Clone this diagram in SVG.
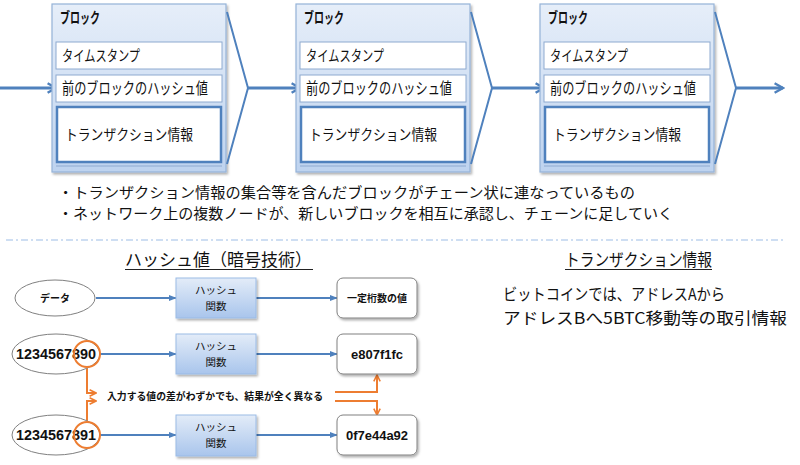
<svg xmlns="http://www.w3.org/2000/svg" width="800" height="465" viewBox="0 0 800 465">
<defs>
<linearGradient id="blk" x1="0" y1="0" x2="0" y2="1">
<stop offset="0" stop-color="#e6eef9"/>
<stop offset="1" stop-color="#bed3ef"/>
</linearGradient>
<linearGradient id="hf" x1="0" y1="0" x2="0" y2="1">
<stop offset="0" stop-color="#e3ecf8"/>
<stop offset="1" stop-color="#a9c5ec"/>
</linearGradient>
<filter id="sh" x="-10%" y="-10%" width="130%" height="130%">
<feDropShadow dx="1.5" dy="2" stdDeviation="1.2" flood-color="#000" flood-opacity="0.3"/>
</filter>
<marker id="open" viewBox="0 0 10 10" refX="8" refY="5" markerWidth="4" markerHeight="4" orient="auto" markerUnits="strokeWidth">
<path d="M1,1 L8,5 L1,9" fill="none" stroke="#4f81bd" stroke-width="2"/>
</marker>
<marker id="tri" viewBox="0 0 10 10" refX="9" refY="5" markerWidth="4" markerHeight="4" orient="auto" markerUnits="strokeWidth">
<path d="M0,1 L10,5 L0,9 Z" fill="#4f81bd"/>
</marker>
<marker id="otri" viewBox="0 0 10 10" refX="9" refY="5" markerWidth="4" markerHeight="4" orient="auto" markerUnits="strokeWidth">
<path d="M1,1 L9,5 L1,9" fill="none" stroke="#ed7d31" stroke-width="2"/>
</marker>
<style>
.jp{font-family:"Noto Sans CJK JP","Noto Sans",sans-serif;fill:#111}
.outer{fill:url(#blk);stroke:#95b3d7;stroke-width:1.2}
.inner{fill:#fff;stroke:#8eaad0;stroke-width:1}
.tx{fill:#fff;stroke:#4f81bd;stroke-width:2.5}
.chev{fill:none;stroke:#4f81bd;stroke-width:2}
.big{fill:none;stroke:#4f81bd;stroke-width:3;marker-end:url(#open)}
.ln{fill:none;stroke:#4f81bd;stroke-width:2;marker-end:url(#tri)}
.ell{fill:#fff;stroke:#808080;stroke-width:1}
.hbox{fill:url(#hf);stroke:#9bbbe6;stroke-width:1}
.obox{fill:#fff;stroke:#808080;stroke-width:1}
.or{fill:none;stroke:#ed7d31;stroke-width:2}
.num{font-family:"Liberation Sans",Arial,sans-serif;font-weight:bold;fill:#111}
</style>
</defs>

<g id="connectors">
<line class="big" x1="0" y1="88" x2="56" y2="88"/>
<line class="big" x1="248" y1="88" x2="300" y2="88"/>
<line class="big" x1="492" y1="88" x2="544" y2="88"/>
<line class="big" x1="736" y1="88" x2="783" y2="88"/>
<line class="ln" x1="96" y1="298" x2="176" y2="298"/>
<line class="ln" x1="256" y1="298" x2="337" y2="298"/>
<line class="ln" x1="100" y1="354" x2="176" y2="354"/>
<line class="ln" x1="256" y1="354" x2="337" y2="354"/>
<line class="ln" x1="100" y1="435" x2="176" y2="435"/>
<line class="ln" x1="256" y1="435" x2="337" y2="435"/>
<path class="or" d="M87,367 V393 H96" marker-end="url(#otri)"/>
<path class="or" d="M87,421 V401 H96" marker-end="url(#otri)"/>
<path class="or" d="M335,392 H377 V375" marker-end="url(#otri)"/>
<path class="or" d="M335,401 H377 V415" marker-end="url(#otri)"/>
</g>

<g id="block1">
<rect class="outer" x="52" y="4" width="174" height="168" filter="url(#sh)"/>
<text class="jp" x="60" y="23" font-size="15" font-weight="bold" textLength="40" lengthAdjust="spacingAndGlyphs">ブロック</text>
<rect class="inner" x="56" y="42" width="166" height="27"/>
<text class="jp" x="62" y="61" font-size="15" textLength="78" lengthAdjust="spacingAndGlyphs">タイムスタンプ</text>
<rect class="inner" x="56" y="75" width="166" height="27"/>
<text class="jp" x="62" y="94" font-size="16" textLength="146" lengthAdjust="spacingAndGlyphs">前のブロックのハッシュ値</text>
<rect class="tx" x="57" y="107" width="164" height="55"/>
<line x1="56" y1="166" x2="222" y2="166" stroke="#8eaad0" stroke-width="1"/>
<text class="jp" x="65" y="140" font-size="15" textLength="128" lengthAdjust="spacingAndGlyphs">トランザクション情報</text>
<polyline class="chev" points="227,12 248,88 227,164"/>
</g>

<g id="block2">
<rect class="outer" x="296" y="4" width="174" height="168" filter="url(#sh)"/>
<text class="jp" x="304" y="23" font-size="15" font-weight="bold" textLength="40" lengthAdjust="spacingAndGlyphs">ブロック</text>
<rect class="inner" x="300" y="42" width="166" height="27"/>
<text class="jp" x="306" y="61" font-size="15" textLength="78" lengthAdjust="spacingAndGlyphs">タイムスタンプ</text>
<rect class="inner" x="300" y="75" width="166" height="27"/>
<text class="jp" x="306" y="94" font-size="16" textLength="146" lengthAdjust="spacingAndGlyphs">前のブロックのハッシュ値</text>
<rect class="tx" x="301" y="107" width="164" height="55"/>
<line x1="300" y1="166" x2="466" y2="166" stroke="#8eaad0" stroke-width="1"/>
<text class="jp" x="309" y="140" font-size="15" textLength="128" lengthAdjust="spacingAndGlyphs">トランザクション情報</text>
<polyline class="chev" points="471,12 492,88 471,164"/>
</g>

<g id="block3">
<rect class="outer" x="540" y="4" width="174" height="168" filter="url(#sh)"/>
<text class="jp" x="548" y="23" font-size="15" font-weight="bold" textLength="40" lengthAdjust="spacingAndGlyphs">ブロック</text>
<rect class="inner" x="544" y="42" width="166" height="27"/>
<text class="jp" x="550" y="61" font-size="15" textLength="78" lengthAdjust="spacingAndGlyphs">タイムスタンプ</text>
<rect class="inner" x="544" y="75" width="166" height="27"/>
<text class="jp" x="550" y="94" font-size="16" textLength="146" lengthAdjust="spacingAndGlyphs">前のブロックのハッシュ値</text>
<rect class="tx" x="545" y="107" width="164" height="55"/>
<line x1="544" y1="166" x2="710" y2="166" stroke="#8eaad0" stroke-width="1"/>
<text class="jp" x="553" y="140" font-size="15" textLength="128" lengthAdjust="spacingAndGlyphs">トランザクション情報</text>
<polyline class="chev" points="715,12 736,88 715,164"/>
</g>

<g id="bullets">
<text class="jp" x="58" y="198" font-size="14.5" textLength="577" lengthAdjust="spacingAndGlyphs">・トランザクション情報の集合等を含んだブロックがチェーン状に連なっているもの</text>
<text class="jp" x="58" y="219" font-size="14.5" textLength="615" lengthAdjust="spacingAndGlyphs">・ネットワーク上の複数ノードが、新しいブロックを相互に承認し、チェーンに足していく</text>
</g>

<line x1="6" y1="240" x2="786" y2="240" stroke="#9dbde6" stroke-width="1" stroke-dasharray="7,3,2,3"/>

<g id="hash-title">
<text class="jp" x="125" y="266" font-size="17" textLength="187" lengthAdjust="spacingAndGlyphs">ハッシュ値（暗号技術）</text>
<line x1="125" y1="269.5" x2="313" y2="269.5" stroke="#222" stroke-width="1"/>
</g>

<g id="data1">
<ellipse class="ell" cx="55" cy="298" rx="40" ry="18"/>
<text class="jp" x="55" y="302" font-size="10" font-weight="bold" text-anchor="middle">データ</text>
</g>
<g id="hash1">
<rect class="hbox" x="176" y="278" width="80" height="40" filter="url(#sh)"/>
<text class="jp" x="216" y="294" font-size="10.5" text-anchor="middle">ハッシュ</text>
<text class="jp" x="216" y="310" font-size="10.5" text-anchor="middle">関数</text>
</g>
<g id="out1">
<rect class="obox" x="337" y="278" width="80" height="40" rx="6" filter="url(#sh)"/>
<text class="jp" x="377" y="302" font-size="10" font-weight="bold" text-anchor="middle">一定桁数の値</text>
</g>

<g id="data2">
<ellipse class="ell" cx="56" cy="354" rx="44" ry="20"/>
<text class="num" x="16" y="359" font-size="14" textLength="80" lengthAdjust="spacingAndGlyphs">1234567890</text>
<circle class="or" cx="87" cy="354" r="13"/>
</g>
<g id="hash2">
<rect class="hbox" x="176" y="334" width="80" height="40" filter="url(#sh)"/>
<text class="jp" x="216" y="350" font-size="10.5" text-anchor="middle">ハッシュ</text>
<text class="jp" x="216" y="366" font-size="10.5" text-anchor="middle">関数</text>
</g>
<g id="out2">
<rect class="obox" x="337" y="334" width="80" height="40" rx="6" filter="url(#sh)"/>
<text class="num" x="377" y="359" font-size="13" text-anchor="middle">e807f1fc</text>
</g>

<text class="jp" x="107" y="400" font-size="10" font-weight="bold" textLength="216" lengthAdjust="spacingAndGlyphs">入力する値の差がわずかでも、結果が全く異なる</text>

<g id="data3">
<ellipse class="ell" cx="56" cy="435" rx="44" ry="20"/>
<text class="num" x="16" y="440" font-size="14" textLength="80" lengthAdjust="spacingAndGlyphs">1234567891</text>
<circle class="or" cx="87" cy="435" r="13"/>
</g>
<g id="hash3">
<rect class="hbox" x="176" y="415" width="80" height="41" filter="url(#sh)"/>
<text class="jp" x="216" y="431" font-size="10.5" text-anchor="middle">ハッシュ</text>
<text class="jp" x="216" y="447" font-size="10.5" text-anchor="middle">関数</text>
</g>
<g id="out3">
<rect class="obox" x="337" y="415" width="80" height="40" rx="6" filter="url(#sh)"/>
<text class="num" x="377" y="440" font-size="13" text-anchor="middle">0f7e44a92</text>
</g>

<g id="tx-info">
<text class="jp" x="565" y="266" font-size="17" textLength="147" lengthAdjust="spacingAndGlyphs">トランザクション情報</text>
<line x1="565" y1="269.5" x2="712" y2="269.5" stroke="#222" stroke-width="1"/>
<text class="jp" x="503" y="300" font-size="16" textLength="222" lengthAdjust="spacingAndGlyphs">ビットコインでは、アドレスAから</text>
<text class="jp" x="503" y="324" font-size="16" textLength="284" lengthAdjust="spacingAndGlyphs">アドレスBへ5BTC移動等の取引情報</text>
</g>
</svg>
